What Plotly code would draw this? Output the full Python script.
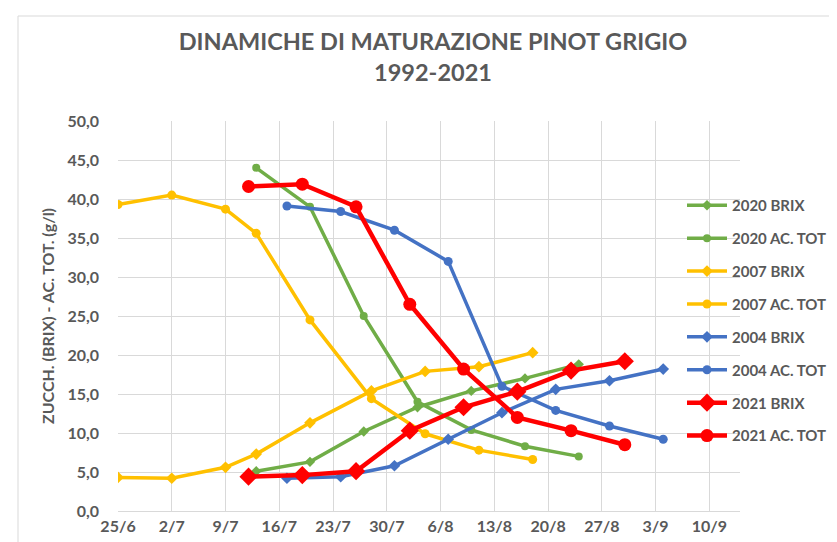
import plotly.graph_objects as go

# ---- data ----
dates_2020 = ["2021-07-13", "2021-07-20", "2021-07-27", "2021-08-03", "2021-08-10", "2021-08-17", "2021-08-24"]
brix_2020 = [5.1, 6.3, 10.2, 13.3, 15.4, 17.0, 18.8]
ac_2020 = [44.0, 39.0, 25.0, 14.0, 10.4, 8.3, 7.0]

dates_2007 = ["2021-06-25", "2021-07-02", "2021-07-09", "2021-07-13", "2021-07-20", "2021-07-28", "2021-08-04", "2021-08-11", "2021-08-18"]
brix_2007 = [4.3, 4.2, 5.6, 7.3, 11.3, 15.4, 17.9, 18.5, 20.3]
ac_2007 = [39.3, 40.5, 38.7, 35.6, 24.5, 14.4, 9.9, 7.8, 6.6]

dates_2004 = ["2021-07-17", "2021-07-24", "2021-07-31", "2021-08-07", "2021-08-14", "2021-08-21", "2021-08-28", "2021-09-04"]
brix_2004 = [4.2, 4.4, 5.8, 9.2, 12.6, 15.6, 16.7, 18.2]
ac_2004 = [39.1, 38.4, 36.0, 32.0, 16.0, 12.9, 10.9, 9.2]

dates_2021 = ["2021-07-12", "2021-07-19", "2021-07-26", "2021-08-02", "2021-08-09", "2021-08-16", "2021-08-23", "2021-08-30"]
brix_2021 = [4.4, 4.6, 5.1, 10.3, 13.3, 15.3, 18.0, 19.2]
ac_2021 = [41.6, 41.9, 39.0, 26.5, 18.2, 12.0, 10.3, 8.5]

series = [
    ("2020 BRIX", dates_2020, brix_2020, "#70AD47", "diamond", 3.5, 8),
    ("2020 AC. TOT", dates_2020, ac_2020, "#70AD47", "circle", 3.5, 8),
    ("2007 BRIX", dates_2007, brix_2007, "#FFC000", "diamond", 3.5, 9),
    ("2007 AC. TOT", dates_2007, ac_2007, "#FFC000", "circle", 3.5, 9),
    ("2004 BRIX", dates_2004, brix_2004, "#4472C4", "diamond", 3.5, 9),
    ("2004 AC. TOT", dates_2004, ac_2004, "#4472C4", "circle", 3.5, 9),
    ("2021 BRIX", dates_2021, brix_2021, "#FF0000", "diamond", 4.5, 14),
    ("2021 AC. TOT", dates_2021, ac_2021, "#FF0000", "circle", 4.5, 13),
]

W, H = 837, 542
ML, MR, MT, MB = 110, 105, 113, 39
PW = W - ML - MR
PH = H - MT - MB

fig = go.Figure()
for i, (name, x, y, col, sym, lw, ms) in enumerate(series):
    fig.add_trace(go.Scatter(
        x=x, y=y, name=name, mode="lines+markers",
        line=dict(color=col, width=lw),
        marker=dict(color=col, symbol=sym, size=ms),
        legendgroup=f"g{i}",
    ))

grey = "#595959"
font_main = "Lato"

fig.update_layout(
    width=W, height=H,
    margin=dict(l=ML, r=MR, t=MT, b=MB),
    paper_bgcolor="white", plot_bgcolor="white",
    separators=",.",
    title=dict(
        text="DINAMICHE DI MATURAZIONE PINOT GRIGIO<br>1992-2021",
        x=(425 - ML) / PW, xref="paper", xanchor="center",
        y=1 - 42 / H, yanchor="top",
        font=dict(family=font_main, size=23.5, color=grey, weight="bold"),
    ),
    showlegend=True,
    legend=dict(
        x=(674 - ML) / PW, xanchor="left",
        y=1 - (181 - MT) / PH, yanchor="top",
        bgcolor="rgba(0,0,0,0)",
        font=dict(family=font_main, size=15, color=grey, weight="bold"),
        tracegroupgap=10.4, itemwidth=40,
    ),
    xaxis=dict(
        type="date",
        range=["2021-06-25", "2021-09-14"],
        tick0="2021-06-25", dtick=7 * 86400000,
        tickformat="%-d/%-m",
        showgrid=True, gridcolor="#D9D9D9", gridwidth=1,
        showline=True, linecolor="#D9D9D9", linewidth=1,
        zeroline=False, ticks="", ticklabelstandoff=1,
        tickfont=dict(family=font_main, size=16, color=grey, weight="bold"),
    ),
    yaxis=dict(
        range=[0, 50], dtick=5, tick0=0, tickformat=".1f",
        showgrid=True, gridcolor="#D9D9D9", gridwidth=1,
        zeroline=False, showline=False, ticks="", ticklabelstandoff=18,
        tickfont=dict(family=font_main, size=16, color=grey, weight="bold"),
        title=dict(text="ZUCCH. (BRIX) - AC. TOT. (g/l)", standoff=8,
                   font=dict(family=font_main, size=16, color=grey, weight="bold")),
    ),
    shapes=[
        dict(type="line", xref="paper", yref="paper",
             x0=(10 - ML) / PW, x1=(10 - ML) / PW,
             y0=1 + (MT - 8) / PH, y1=-(MB + 5) / PH,
             line=dict(color="#D9D9D9", width=1)),
        dict(type="line", xref="paper", yref="paper",
             x0=(10 - ML) / PW, x1=(W + 5 - ML) / PW,
             y0=1 + (MT - 8) / PH, y1=1 + (MT - 8) / PH,
             line=dict(color="#D9D9D9", width=1)),
    ],
)

fig.write_html("out.html")
